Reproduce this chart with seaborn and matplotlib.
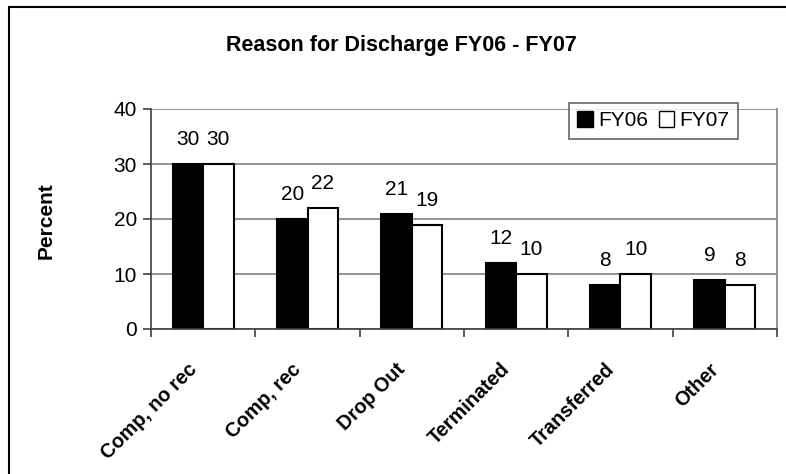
import matplotlib
matplotlib.use("Agg")
import matplotlib.pyplot as plt
import matplotlib.transforms as mtrans
import seaborn as sns
import pandas as pd
from matplotlib.patches import Rectangle, Patch

categories = ["Comp, no rec", "Comp, rec", "Drop Out", "Terminated", "Transferred", "Other"]
fy06 = [30, 20, 21, 12, 8, 9]
fy07 = [30, 22, 19, 10, 10, 8]
series = ["FY06", "FY07"]
yticks = [0, 10, 20, 30, 40]

df = pd.DataFrame({
    "Category": categories * 2,
    "Year": [series[0]] * len(categories) + [series[1]] * len(categories),
    "Percent": fy06 + fy07,
})

sns.set_theme(style="white")
plt.rcParams['font.family'] = ['Liberation Sans', 'DejaVu Sans']
plt.rcParams['text.color'] = 'black'
plt.rcParams['axes.labelcolor'] = 'black'
plt.rcParams['xtick.color'] = 'black'
plt.rcParams['ytick.color'] = 'black'

W, H = 786, 474
fig = plt.figure(figsize=(W / 100, H / 100), dpi=100)
ax = fig.add_axes([151 / W, 1 - 329 / H, (777 - 151) / W, (329 - 109) / H])

sns.barplot(data=df, x="Category", y="Percent", hue="Year", order=categories,
            hue_order=series, palette=["black", "white"], edgecolor="black",
            linewidth=1.5, width=0.585, gap=0, ax=ax, legend=False, errorbar=None)

for cont in ax.containers:
    ax.bar_label(cont, labels=[f"{v:.0f}" for v in cont.datavalues], padding=10.5,
                 fontsize=15)

ax.set_ylim(0, 40)
ax.set_xlim(-0.5, len(categories) - 0.5)
ax.set_yticks(yticks)
ax.set_yticklabels([str(t) for t in yticks], fontsize=15)
ax.yaxis.grid(True, color="#808080", linewidth=1.2)
ax.set_axisbelow(True)
for s in ["left", "bottom"]:
    ax.spines[s].set_color("#404040")
    ax.spines[s].set_linewidth(1.2)
ax.spines["right"].set_color("#808080")
ax.spines["right"].set_linewidth(1.2)
ax.spines["top"].set_visible(False)

ax.tick_params(axis="y", direction="out", length=6, width=1.2, color="#404040", left=True, pad=4)
ax.set_xticks(range(len(categories)))
ax.set_xticklabels(categories, rotation=45, ha="right", va="top", rotation_mode="anchor",
                   fontsize=14.3, fontweight="bold")
ax.tick_params(axis="x", which="major", length=0, pad=22)
shift = mtrans.ScaledTranslation(-16 / 100, 0, fig.dpi_scale_trans)
for lab in ax.get_xticklabels():
    lab.set_transform(lab.get_transform() + shift)
ax.set_xticks([i - 0.5 for i in range(len(categories) + 1)], minor=True)
ax.tick_params(axis="x", which="minor", direction="out", length=6, width=1.2, color="#404040", bottom=True)

ax.set_xlabel("")
ax.set_ylabel("")
fig.text(46 / W, 1 - 221 / H, "Percent", rotation=90, ha="center", va="center",
         fontsize=15, fontweight="bold")

fig.text(401 / W, 1 - 45 / H, "Reason for Discharge FY06 - FY07", ha="center", va="center",
         fontsize=15.5, fontweight="bold")

handles = [Patch(facecolor="black", edgecolor="black"),
           Patch(facecolor="white", edgecolor="black")]
leg = fig.legend(handles, series, loc="upper left",
                 bbox_to_anchor=(569 / W, 1 - 103 / H), ncol=2, frameon=True,
                 fontsize=15, handlelength=0.75, handleheight=0.75, handletextpad=0.25,
                 columnspacing=0.5, borderpad=0.4, fancybox=False, borderaxespad=0)
leg.get_frame().set_edgecolor("#404040")
leg.get_frame().set_linewidth(1.2)

fig.patches.append(Rectangle((9 / W, -20 / H), (W + 20) / W, (H + 20 - 7) / H,
                             transform=fig.transFigure, fill=False,
                             edgecolor="black", linewidth=1.5))

fig.savefig("out.png", dpi=100)
